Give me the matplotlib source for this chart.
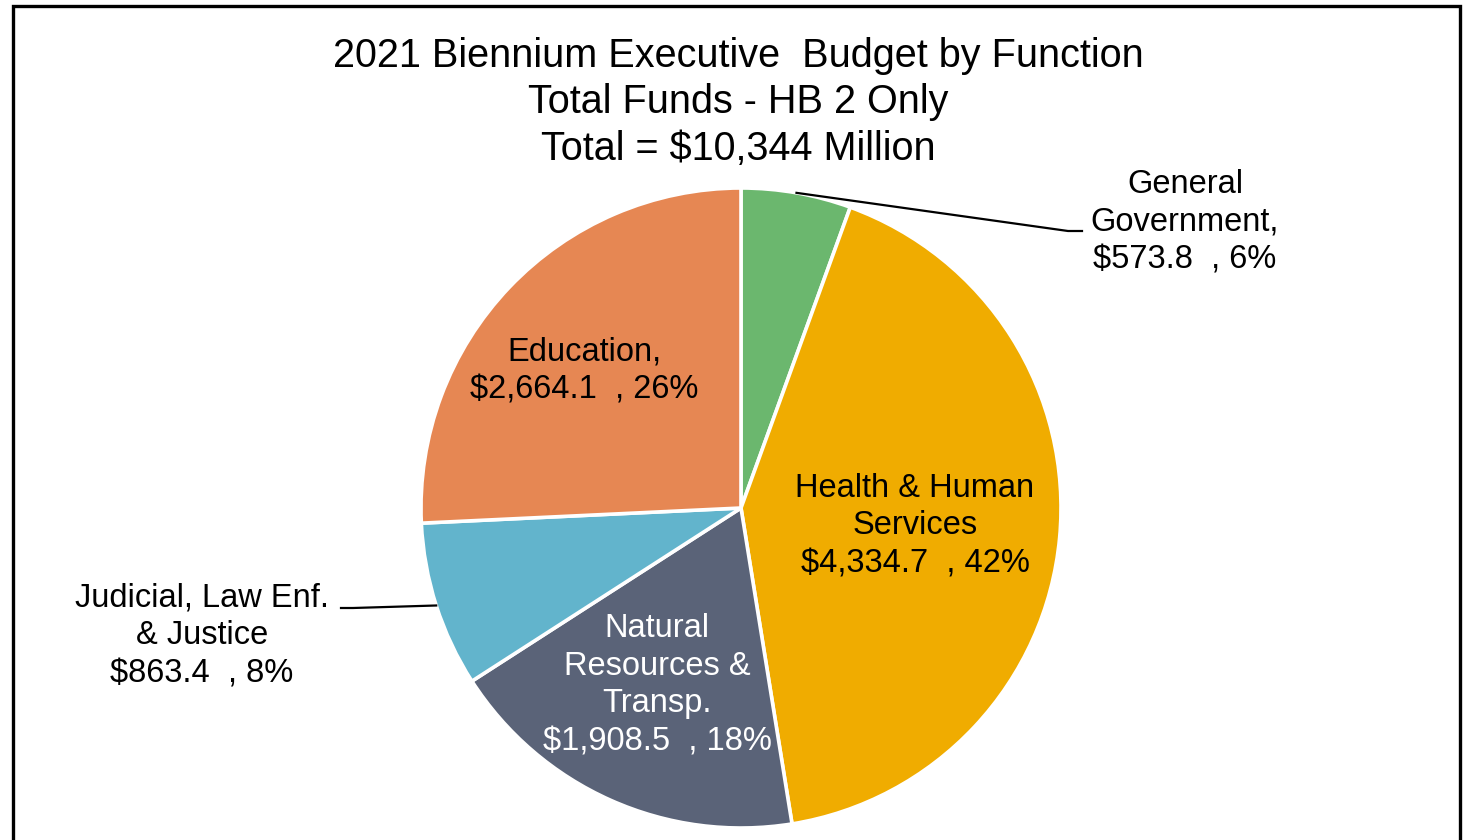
import numpy as np
import matplotlib.pyplot as plt

categories = ['General\nGovernment,', 'Health & Human\nServices',
              'Natural\nResources &\nTransp.', 'Judicial, Law Enf.\n& Justice',
              'Education,']
values = [573.8, 4334.7, 1908.5, 863.4, 2664.1]
percents = [6, 42, 18, 8, 26]
colors = ['#6BB76E', '#F0AC00', '#5A6378', '#62B4CC', '#E68753']
title_lines = ['2021 Biennium Executive  Budget by Function',
               'Total Funds - HB 2 Only',
               'Total = $10,344 Million']

W, H = 1470, 840


def py(y):
    # pixel row measured from the top -> axis y
    return H - y


def main():
    plt.rcParams['font.family'] = ['Liberation Sans', 'DejaVu Sans']
    fig = plt.figure(figsize=(W / 100, H / 100), dpi=100)
    ax = fig.add_axes([0, 0, 1, 1])

    cx, cy, r = 741, py(508), 320
    wedges, _ = ax.pie(values, colors=colors, startangle=90, counterclock=False,
                       center=(cx, cy), radius=r, frame=True,
                       wedgeprops=dict(edgecolor='white', linewidth=2.6))
    ax.set_xlim(0, W)
    ax.set_ylim(0, H)
    ax.set_aspect('equal')
    ax.axis('off')

    # outer frame (bottom edge runs past the image)
    ax.plot([13, 13, 1460, 1460], [-10, py(6), py(6), -10], color='black',
            lw=2.4, solid_joinstyle='miter', clip_on=False)

    # title
    for line, y in zip(title_lines, [56, 102, 149]):
        ax.text(738, py(y), line, ha='center', va='center', fontsize=28.5)

    labels = [f'{c}\n${v:,.1f}  , {p}%' for c, v, p in zip(categories, values, percents)]
    fs = 23.5
    # label centres and text colours
    pos = [(1185, 222), (915, 526), (657, 685), (202, 636), (584, 371)]
    tcol = ['black', 'black', 'white', 'black', 'black']
    for lab, (x, y), c in zip(labels, pos, tcol):
        ax.text(x, py(y), lab, ha='center', va='center', fontsize=fs,
                color=c, linespacing=1.28)

    # leader lines for the outside labels
    def edge_point(w):
        a = np.deg2rad((w.theta1 + w.theta2) / 2)
        return cx + r * np.cos(a), cy + r * np.sin(a)

    x0, y0 = edge_point(wedges[0])
    ax.plot([x0, 1068, 1082], [y0, py(231), py(231)], color='black', lw=1.6)
    x0, y0 = edge_point(wedges[3])
    ax.plot([x0, 353, 341], [y0, py(608), py(608)], color='black', lw=1.6)

    fig.savefig('out.png', dpi=100, facecolor='white')


if __name__ == '__main__':
    main()
